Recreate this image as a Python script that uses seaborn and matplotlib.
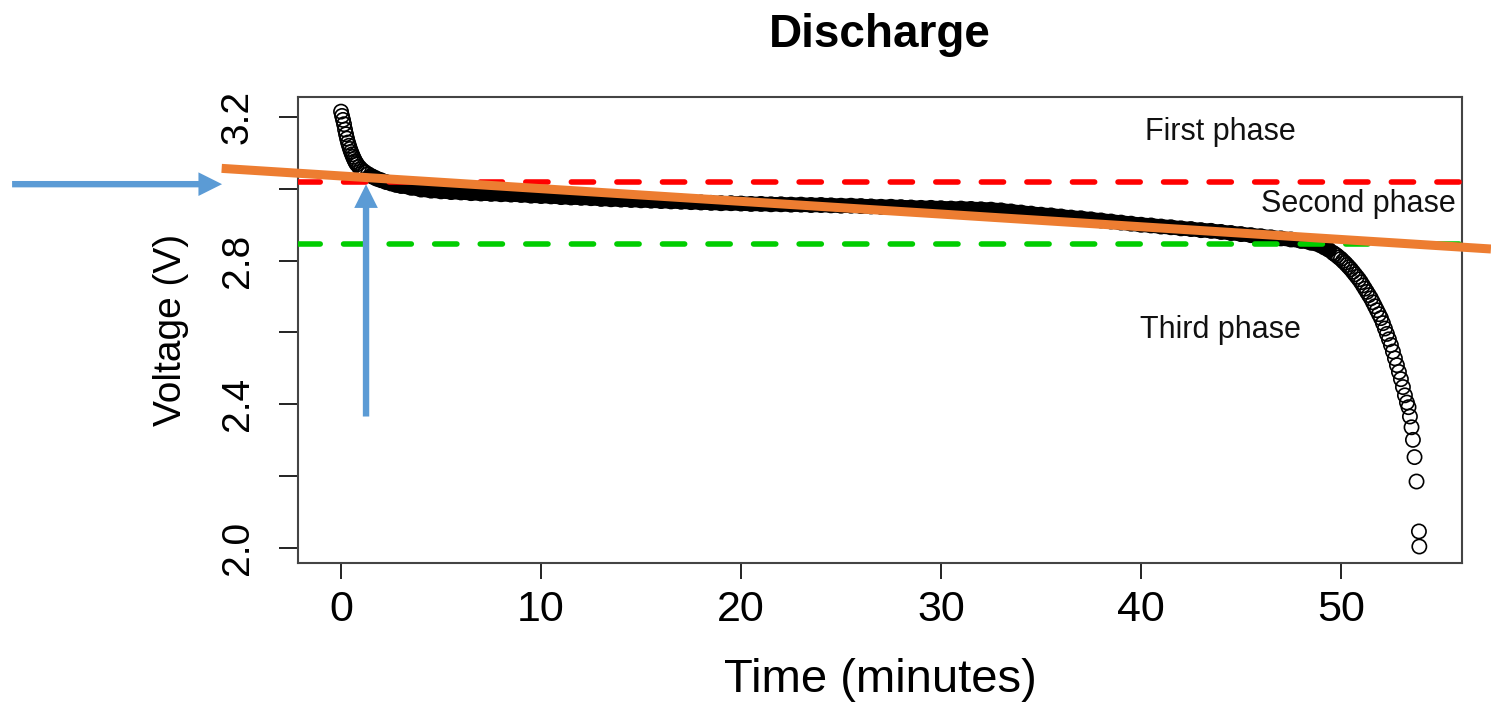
import numpy as np
import matplotlib
matplotlib.use("Agg")
import matplotlib.pyplot as plt
import seaborn as sns

# discharge readings (time in minutes, voltage in V)
start_time = [0.0, 0.05, 0.1, 0.15, 0.2, 0.25, 0.3, 0.35, 0.4, 0.45, 0.5, 0.55, 0.6, 0.65, 0.7,
              0.75, 0.8, 0.9, 1.0, 1.1, 1.2, 1.35, 1.5, 1.65, 1.8, 2.0, 2.25, 2.5, 2.75, 3.0]
start_volt = [3.215, 3.203, 3.192, 3.180, 3.165, 3.152, 3.140, 3.129, 3.120, 3.111, 3.103, 3.096,
              3.089, 3.083, 3.077, 3.072, 3.068, 3.061, 3.055, 3.050, 3.046, 3.041, 3.036, 3.032,
              3.028, 3.024, 3.019, 3.015, 3.011, 3.008]

plateau_time = [3.5, 4.0, 4.5, 5.0, 5.5, 6.0, 6.5, 7.0, 7.5, 8.0, 8.5, 9.0, 9.5, 10.0,
                10.5, 11.0, 11.5, 12.0, 12.5, 13.0, 13.5, 14.0, 14.5, 15.0, 15.5, 16.0, 16.5,
                17.0, 17.5, 18.0, 18.5, 19.0, 19.5, 20.0, 20.5, 21.0, 21.5, 22.0, 22.5, 23.0,
                23.5, 24.0, 24.5, 25.0, 25.5, 26.0, 26.5, 27.0, 27.5, 28.0, 28.5, 29.0, 29.5,
                30.0, 30.5, 31.0, 31.5, 32.0, 32.5, 33.0, 33.5, 34.0, 34.5, 35.0, 35.5, 36.0,
                36.5, 37.0, 37.5, 38.0, 38.5, 39.0, 39.5, 40.0, 40.5, 41.0, 41.5, 42.0, 42.5,
                43.0, 43.5, 44.0, 44.5, 45.0, 45.5, 46.0, 46.5, 47.0, 47.5, 48.0, 48.5, 49.0]
plateau_volt = [3.003, 2.998, 2.995, 2.993, 2.991, 2.990, 2.988, 2.987, 2.986, 2.985, 2.984,
                2.983, 2.981, 2.980, 2.979, 2.977, 2.976, 2.975, 2.974, 2.972, 2.971, 2.970,
                2.969, 2.968, 2.967, 2.966, 2.965, 2.964, 2.963, 2.962, 2.961, 2.960, 2.960,
                2.959, 2.958, 2.958, 2.957, 2.957, 2.956, 2.956, 2.955, 2.955, 2.954, 2.953,
                2.953, 2.952, 2.951, 2.950, 2.950, 2.949, 2.948, 2.947, 2.947, 2.946, 2.945,
                2.945, 2.944, 2.943, 2.942, 2.940, 2.937, 2.934, 2.931, 2.928, 2.926, 2.923,
                2.920, 2.918, 2.915, 2.912, 2.909, 2.906, 2.903, 2.900, 2.898, 2.895, 2.893,
                2.890, 2.888, 2.885, 2.883, 2.880, 2.877, 2.874, 2.871, 2.868, 2.865, 2.862,
                2.859, 2.855, 2.850, 2.842]

tail_time = [49.2, 49.4, 49.6, 49.7, 49.8, 49.9, 50.0, 50.1, 50.2, 50.3, 50.4, 50.5, 50.6, 50.7,
             50.8, 50.9, 51.0, 51.1, 51.2, 51.3, 51.4, 51.5, 51.6, 51.7, 51.8, 51.9, 52.0,
             52.1, 52.2, 52.3, 52.4, 52.5, 52.6, 52.7, 52.8, 52.9, 53.0, 53.1, 53.2, 53.3,
             53.38, 53.45, 53.53, 53.6, 53.68, 53.78, 53.9, 53.92]
tail_volt = [2.836, 2.830, 2.822, 2.818, 2.814, 2.809, 2.805, 2.799, 2.794, 2.788, 2.782, 2.776,
             2.769, 2.762, 2.755, 2.748, 2.740, 2.731, 2.722, 2.713, 2.704, 2.695, 2.684,
             2.673, 2.662, 2.651, 2.640, 2.626, 2.611, 2.596, 2.581, 2.565, 2.547, 2.528,
             2.509, 2.490, 2.470, 2.448, 2.425, 2.405, 2.392, 2.366, 2.336, 2.301, 2.253,
             2.185, 2.046, 2.004]

first_level = 3.019    # red dashed boundary
second_level = 2.846   # green dashed boundary
fit_time = [-5.97, 57.5]     # orange trend line (drawn past the axes)
fit_volt = [3.057, 2.8325]
phase_labels = ["First phase", "Second phase", "Third phase"]
phase_time = [43.95, 50.85, 43.95]
phase_volt = [3.158, 2.958, 2.607]

time = np.array(start_time + plateau_time + tail_time)
volt = np.array(start_volt + plateau_volt + tail_volt)

sns.set_theme(style="ticks")
plt.rcParams['font.family'] = ['Liberation Sans', 'DejaVu Sans']
plt.rcParams['text.color'] = 'black'
plt.rcParams['axes.labelcolor'] = 'black'
plt.rcParams['xtick.color'] = 'black'
plt.rcParams['ytick.color'] = 'black'

fig = plt.figure(figsize=(14.91, 7.03), dpi=100)
ax = fig.add_axes([0.1999, 0.1991, 0.7806, 0.6629])

# dense part of the record: circles overlap into a solid band
band = (time >= 1.5) & (time <= 49.5)
sns.lineplot(x=time[band], y=volt[band], color='black', lw=10.5, sort=False,
             estimator=None, ax=ax, zorder=2)
sns.scatterplot(x=time, y=volt, marker='o', s=105, facecolors='none',
                edgecolors='black', linewidths=1.2, ax=ax, zorder=3)

dash = (0, (4.0, 4.2))
ax.axhline(first_level, color='#ff0000', lw=4, ls=dash, dash_capstyle='round', zorder=4)
ax.axhline(second_level, color='#00cd00', lw=4, ls=dash, dash_capstyle='round', zorder=4)

for lab, t, v in zip(phase_labels, phase_time, phase_volt):
    ax.text(t, v, lab, fontsize=22, ha='center', va='center', color='#111111')

sns.lineplot(x=fit_time, y=fit_volt, color='#ed7d31', lw=6.5, ax=ax, clip_on=False,
             zorder=6, solid_capstyle='butt')

blue = '#5b9bd5'
arrow = dict(width=4.6, headwidth=17, headlength=17, shrink=0, color=blue, lw=0)
ax.annotate('', xy=(-5.95, first_level - 0.006), xytext=(-16.45, first_level - 0.006),
            arrowprops=arrow, annotation_clip=False, zorder=7)
ax.annotate('', xy=(1.25, 3.0126), xytext=(1.25, 2.366),
            arrowprops=arrow, annotation_clip=False, zorder=7)

ax.set_xlim(-2.15, 56.05)
ax.set_ylim(1.958, 3.2557)
ax.set_xticks([0, 10, 20, 30, 40, 50])
ax.set_yticks([2.0, 2.2, 2.4, 2.6, 2.8, 3.0, 3.2])
ax.set_yticklabels(['2.0', '', '2.4', '', '2.8', '', '3.2'], rotation=90, va='center')
ax.tick_params(axis='x', labelsize=31, length=11.5, width=1.4, pad=8, color='#222222')
ax.tick_params(axis='y', labelsize=28, length=13.5, width=1.4, pad=17, color='#222222')
for s in ax.spines.values():
    s.set_visible(True)
    s.set_linewidth(1.5)
    s.set_color('#444444')

ax.set_xlabel('Time (minutes)', fontsize=34, labelpad=20)
ax.set_ylabel('Voltage (V)', fontsize=28, labelpad=22)
ax.set_title('Discharge', fontsize=33, fontweight='bold', pad=36)

fig.savefig('out.png', dpi=100)
